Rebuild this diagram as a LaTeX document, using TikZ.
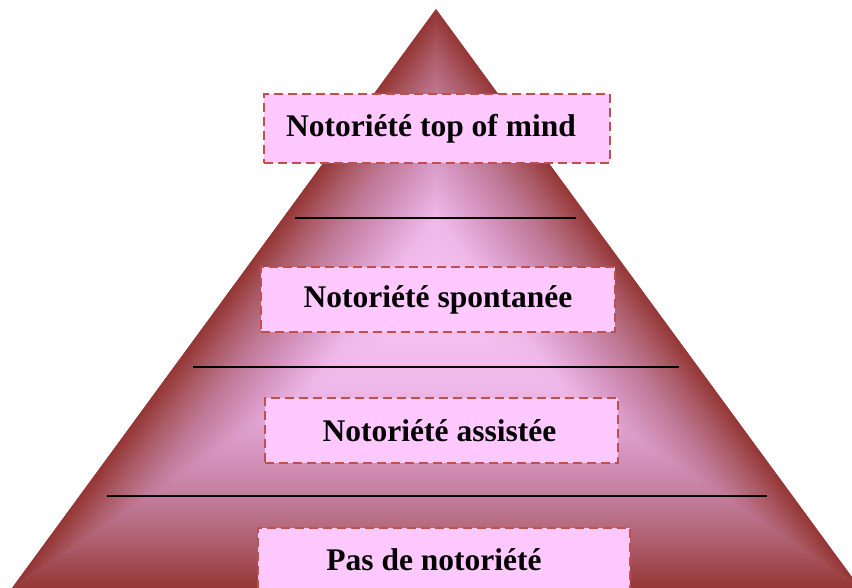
\documentclass[tikz,border=0pt]{standalone}
\usepackage{fontspec}
\setmainfont{Liberation Serif}

% pyramid colours
\definecolor{pyrdark}{RGB}{148,54,52}
\definecolor{pyrA}{RGB}{172,92,105}
\definecolor{pyrB}{RGB}{192,122,152}
\definecolor{pyrC}{RGB}{215,152,196}
\definecolor{pyrD}{RGB}{238,184,232}
\definecolor{pyrlight}{RGB}{247,196,245}
% level boxes
\definecolor{boxline}{RGB}{192,80,77}
\definecolor{boxfill}{RGB}{255,200,255}

% edge-to-centre gradient used on each face of the pyramid
\pgfdeclareverticalshading{pyrshade}{100bp}{%
  color(0bp)=(pyrdark); color(25bp)=(pyrdark);
  color(32.5bp)=(pyrA); color(40bp)=(pyrB);
  color(50bp)=(pyrC); color(60bp)=(pyrD);
  color(75bp)=(pyrlight); color(100bp)=(pyrlight)}

\tikzset{
  levelbox/.style={draw=boxline, fill=boxfill, line width=2.5pt,
    dash pattern=on 9pt off 5pt, inner sep=0pt, text=black,
    font=\fontsize{31.5}{36}\selectfont\bfseries},
  divider/.style={draw=black, line width=2pt}
}

\begin{document}
\begin{tikzpicture}[x=1pt,y=1pt]
\useasboundingbox (0,0) rectangle (852,588);
\clip (0,0) rectangle (852,588);

% pyramid corners and gradient centre
\coordinate (apex) at (436,579);
\coordinate (bl) at (12,0);
\coordinate (br) at (860,0);
\coordinate (ctr) at (436,285);

\fill[pyrB] (apex) -- (bl) -- (br) -- cycle;

% bottom face
\begin{scope}
  \clip (ctr) -- (bl) -- (br) -- cycle;
  \shade[shading=pyrshade] (12,0) rectangle (860,285);
\end{scope}
% left face
\begin{scope}
  \clip (ctr) -- (apex) -- (bl) -- cycle;
  \begin{scope}[transform canvas={shift={(436,579)}, rotate=233.78}]
    \shade[shading=pyrshade] (0,0) rectangle (717.6,173.7);
  \end{scope}
\end{scope}
% right face
\begin{scope}
  \clip (ctr) -- (apex) -- (br) -- cycle;
  \begin{scope}[transform canvas={shift={(860,0)}, rotate=126.22}]
    \shade[shading=pyrshade] (0,0) rectangle (717.6,173.7);
  \end{scope}
\end{scope}

% dividing lines between levels
\coordinate (d1l) at (295,370);  \coordinate (d1r) at (576,370);
\coordinate (d2l) at (193,221);  \coordinate (d2r) at (679,221);
\coordinate (d3l) at (107,92);   \coordinate (d3r) at (767,92);
\draw[divider] (d1l) -- (d1r);
\draw[divider] (d2l) -- (d2r);
\draw[divider] (d3l) -- (d3r);

% level labels (kerns nudge the text off the box centre)
\node[levelbox, minimum width=346pt, minimum height=69pt] (top) at (437,459.5)
  {Notoriété top of mind\kern12pt};
\node[levelbox, minimum width=354pt, minimum height=65pt] (spont) at (438,288.5)
  {Notoriété spontanée};
\node[levelbox, minimum width=353pt, minimum height=65pt] (assist) at (441.5,157.5)
  {Notoriété assistée\kern4pt};
\node[levelbox, minimum width=372pt, minimum height=72pt] (none) at (444,24)
  {\raisebox{8pt}{Pas de notoriété}\kern20pt};
\end{tikzpicture}
\end{document}
